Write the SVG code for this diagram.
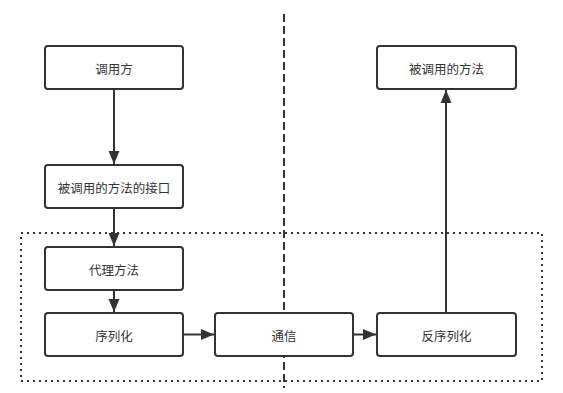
<svg xmlns="http://www.w3.org/2000/svg" width="563" height="393" viewBox="0 0 563 393">
<style>
.box{fill:#fff;stroke:#333;stroke-width:2}
.lbl{font-family:"Noto Sans CJK SC","Liberation Sans",sans-serif;font-size:12.5px;fill:#333;text-anchor:middle;dominant-baseline:central}
.edge{stroke:#333;stroke-width:2;fill:none}
</style>
<defs>
<marker id="ah" markerUnits="userSpaceOnUse" markerWidth="14" markerHeight="14" viewBox="0 0 14 14" refX="13" refY="7" orient="auto">
<path d="M0,1.5 L13,7 L0,12.5 Z" fill="#333"/>
</marker>
</defs>
<rect x="0" y="0" width="563" height="393" fill="#fff"/>
<g id="container">
<rect x="21" y="233" width="521" height="148" fill="none" stroke="#333" stroke-width="2" stroke-dasharray="2 4"/>
</g>
<g id="divider">
<line x1="284" y1="14" x2="284" y2="388" stroke="#333" stroke-width="2" stroke-dasharray="8 4"/>
</g>
<g id="connectors">
<line class="edge" x1="114" y1="89" x2="114" y2="164" marker-end="url(#ah)"/>
<line class="edge" x1="114" y1="208" x2="114" y2="246" marker-end="url(#ah)"/>
<line class="edge" x1="114" y1="290" x2="114" y2="312" marker-end="url(#ah)"/>
<line class="edge" x1="183" y1="334.5" x2="214" y2="334.5" marker-end="url(#ah)"/>
<line class="edge" x1="353" y1="334.5" x2="376" y2="334.5" marker-end="url(#ah)"/>
<line class="edge" x1="446" y1="313" x2="446" y2="90" marker-end="url(#ah)"/>
</g>
<g id="caller">
<rect class="box" x="45" y="46" width="138" height="43" rx="3"/>
<text class="lbl" x="114" y="68">调用方</text>
</g>
<g id="interface">
<rect class="box" x="45" y="165" width="138" height="43" rx="3"/>
<text class="lbl" x="114" y="187">被调用的方法的接口</text>
</g>
<g id="proxy">
<rect class="box" x="45" y="247" width="138" height="43" rx="3"/>
<text class="lbl" x="114" y="269">代理方法</text>
</g>
<g id="serialize">
<rect class="box" x="45" y="313" width="138" height="43" rx="3"/>
<text class="lbl" x="114" y="335">序列化</text>
</g>
<g id="comm">
<rect class="box" x="215" y="313" width="138" height="43" rx="3"/>
<text class="lbl" x="284" y="335">通信</text>
</g>
<g id="deserialize">
<rect class="box" x="377" y="313" width="139" height="43" rx="3"/>
<text class="lbl" x="446.5" y="335">反序列化</text>
</g>
<g id="callee">
<rect class="box" x="377" y="46" width="139" height="43" rx="3"/>
<text class="lbl" x="446.5" y="68">被调用的方法</text>
</g>
</svg>
